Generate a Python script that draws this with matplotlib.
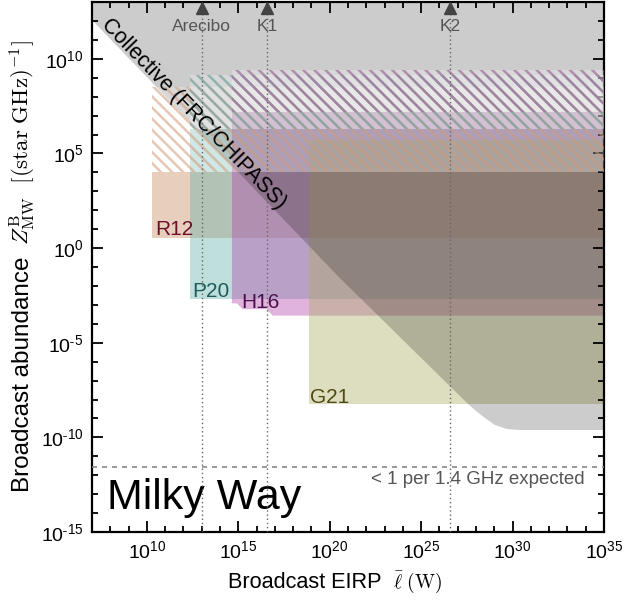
import matplotlib
matplotlib.use("Agg")
import matplotlib.pyplot as plt
import matplotlib.colors as mcolors
import numpy as np
from matplotlib.ticker import FixedLocator, FuncFormatter, NullFormatter

XLIM = (1e7, 1e35)
YLIM = (1e-15, 1e13)

# survey limits
SURVEYS = ["R12", "P20", "H16", "G21"]
FILL_COLORS = ["#c6875c", "#61b1ac", "#b143a7", "#acac61"]
HATCH_COLORS = ["#d09a78", "#5a9490", "#92518a", "#999966"]
TEXT_COLORS = ["#6d0f2c", "#1e5c5a", "#4d0e4e", "#4f4a12"]

r12_low_eirp = [1.9e10, 1e35]
r12_low_z = [3.4, 3.4]
p20_low_eirp = [2.3e12, 1e35]
p20_low_z = [2.0e-3, 2.0e-3]
h16_low_eirp = [4.5e14, 8.5e14, 1.7e15, 3.5e16, 7.6e16, 1e35]
h16_low_z = [1.2e-3, 1.2e-3, 5.9e-4, 5.9e-4, 2.7e-4, 2.7e-4]
g21_low_eirp = [7.2e18, 1e35]
g21_low_z = [5.8e-9, 5.8e-9]

survey_low_eirp = [r12_low_eirp, p20_low_eirp, h16_low_eirp, g21_low_eirp]
survey_low_z = [r12_low_z, p20_low_z, h16_low_z, g21_low_z]
survey_z_top = [1.05e4, 1.95e6, 1.55e7, 5.1e5]
survey_z_hatch = [3.2e8, 1.4e9, 2.6e9, None]
label_eirp = [2.8e10, 3.0e12, 1.4e15, 8.3e18]
label_z = [10.0, 4.8e-3, 1.4e-3, 1.35e-8]

# collective (FRC/CHIPASS) boundary
coll_eirp = [1e7, 3.6e20, 3.2e27, 8.7e27, 3.1e28, 1.07e29, 4.9e29, 2.5e30, 1e35]
coll_z = [1.12e12, 2.6e-2, 6.6e-9, 2.8e-9, 1.05e-9, 4.5e-10, 2.75e-10, 2.45e-10, 2.45e-10]

FACILITIES = ["Arecibo", "K1", "K2"]
facility_eirp = [1e13, 3.7e16, 3.7e26]

Z_EXPECTED = 2.75e-12

plt.rcParams.update({
    "font.family": "Liberation Sans",
    "mathtext.fontset": "cm",
    "hatch.linewidth": 1.8,
})

fig = plt.figure(figsize=(6.26, 6.02), dpi=100)
ax = fig.add_axes((92/626, 70/602, 512/626, 530/602))
ax.set_xscale("log")
ax.set_yscale("log")
ax.set_xlim(*XLIM)
ax.set_ylim(*YLIM)

for i, name in enumerate(SURVEYS):
    c = FILL_COLORS[i]
    lx = survey_low_eirp[i]
    ax.fill_between(lx, survey_low_z[i], survey_z_top[i],
                    facecolor=mcolors.to_rgba(c, 0.4), lw=0, zorder=1)
    if survey_z_hatch[i] is not None:
        ax.fill_between([lx[0], XLIM[1]], survey_z_top[i], survey_z_hatch[i],
                        facecolor=(1, 1, 1, 0.25),
                        edgecolor=mcolors.to_rgba(HATCH_COLORS[i], 0.55),
                        hatch="\\\\\\", lw=0, zorder=3)
    ax.text(label_eirp[i], label_z[i], name, color=TEXT_COLORS[i],
            fontsize=15, ha="left", va="center", zorder=5)

ax.fill_between(coll_eirp, coll_z, YLIM[1], facecolor=(0, 0, 0, 0.2),
                lw=0, zorder=2)
ax.text(3.5e12, 1.2e7, "Collective (FRC/CHIPASS)", rotation=-46,
        rotation_mode="anchor", ha="center", va="center", fontsize=15.5,
        zorder=5)

for name, x in zip(FACILITIES, facility_eirp):
    ax.axvline(x, ymax=0.975, color="#666666", lw=1, ls=(0, (1, 2)), zorder=4)
    ax.plot([x], [0.989], marker="^", ms=8, color="#444444",
            transform=ax.get_xaxis_transform(), clip_on=False, zorder=6)
    ax.text(x, 0.953, name, transform=ax.get_xaxis_transform(),
            ha="center", va="center", fontsize=12.5, color="#555555", zorder=6)

ax.axhline(Z_EXPECTED, color="#888888", lw=1.2, ls=(0, (3, 3)), zorder=4)
ax.text(0.962, 0.099, "< 1 per 1.4 GHz expected", transform=ax.transAxes,
        ha="right", va="center", fontsize=13.5, color="#555555")
ax.text(0.03, 0.064, "Milky Way", transform=ax.transAxes, ha="left",
        va="center", fontsize=31)


def fmt(v, pos):
    n = int(round(np.log10(v)))
    if n < 0:
        return r"$\mathregular{10^{\text{-}%d}}$" % (-n)
    return r"$\mathregular{10^{%d}}$" % n


ax.xaxis.set_major_locator(FixedLocator(10.0**np.arange(10, 36, 5)))
ax.xaxis.set_minor_locator(FixedLocator(10.0**np.arange(7, 36)))
ax.yaxis.set_major_locator(FixedLocator(10.0**np.arange(-15, 11, 5)))
ax.yaxis.set_minor_locator(FixedLocator(10.0**np.arange(-15, 14)))
ax.xaxis.set_major_formatter(FuncFormatter(fmt))
ax.yaxis.set_major_formatter(FuncFormatter(fmt))
ax.xaxis.set_minor_formatter(NullFormatter())
ax.yaxis.set_minor_formatter(NullFormatter())
ax.tick_params(which="both", direction="in", top=True, right=True,
               labelsize=14, width=1.3)
ax.tick_params(which="major", length=8, pad=6)
ax.tick_params(which="minor", length=4)
for sp in ax.spines.values():
    sp.set_linewidth(1.6)

# axis labels: sans words followed by a serif math part
fig.text(382/626, 1 - 588/602, "Broadcast EIRP", ha="right", va="baseline",
         fontsize=15.6)
fig.text(393/626, 1 - 588/602, r"$\bar{\ell}\ ({\rm W})$", ha="left",
         va="baseline", fontsize=14)
fig.text(29/626, 1 - 257/602, "Broadcast abundance", rotation=90,
         rotation_mode="anchor", ha="right", va="baseline", fontsize=17.5)
fig.text(29/626, 1 - 245/602,
         r"$Z^{\rm B}_{\rm MW}\ \ [({\rm star\ GHz})^{-1}]$", rotation=90,
         rotation_mode="anchor", ha="left", va="baseline", fontsize=16.5)

fig.savefig("out.png", dpi=100)
